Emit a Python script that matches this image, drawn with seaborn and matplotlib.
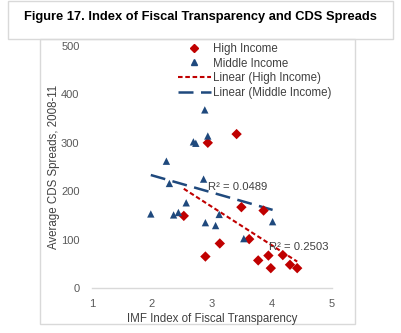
import numpy as np
import pandas as pd
import matplotlib
matplotlib.use("Agg")
import matplotlib.pyplot as plt
from matplotlib.lines import Line2D
from matplotlib.patches import Rectangle
import seaborn as sns

# ---- data ----
high_x = [2.53, 2.89, 2.93, 3.13, 3.41, 3.49, 3.62, 3.77, 3.86, 3.94, 3.98, 4.18, 4.30, 4.42]
high_y = [149, 65, 300, 92, 318, 167, 101, 57, 160, 67, 41, 68, 48, 41]
mid_x = [1.98, 2.24, 2.29, 2.36, 2.44, 2.57, 2.69, 2.73, 2.86, 2.88, 2.89, 2.93, 3.06, 3.12, 3.53, 4.01]
mid_y = [153, 262, 216, 151, 156, 176, 302, 299, 225, 368, 135, 314, 129, 152, 102, 137]
r2_high = "R² = 0.2503"
r2_mid = "R² = 0.0489"
title = "Figure 17. Index of Fiscal Transparency and CDS Spreads"
xlabel = "IMF Index of Fiscal Transparency"
ylabel = "Average CDS Spreads, 2008-11"
xticks = [1, 2, 3, 4, 5]
yticks = [0, 100, 200, 300, 400, 500]

RED = "#C00000"
BLUE = "#1F497D"
GRAY = "#595959"

df = pd.DataFrame({
    "x": high_x + mid_x,
    "y": high_y + mid_y,
    "group": ["High Income"] * len(high_x) + ["Middle Income"] * len(mid_x),
})

sns.set_style("white")
plt.rcParams["font.family"] = ["Liberation Sans", "DejaVu Sans"]

W, H = 402, 333
fig = plt.figure(figsize=(W / 100, H / 100), dpi=100)
ax = fig.add_axes([92 / W, (H - 288) / H, 240 / W, 242 / H])

hi = df[df.group == "High Income"]
mi = df[df.group == "Middle Income"]

sns.regplot(data=hi, x="x", y="y", scatter=False, ci=None, ax=ax,
            line_kws=dict(color=RED, lw=1.5, dashes=(2.2, 1.3)))
sns.regplot(data=mi, x="x", y="y", scatter=False, ci=None, ax=ax,
            line_kws=dict(color=BLUE, lw=1.8, dashes=(6, 3)))
sns.scatterplot(data=df, x="x", y="y", hue="group", style="group",
                palette={"High Income": RED, "Middle Income": BLUE},
                markers={"High Income": "D", "Middle Income": "^"},
                s=28, edgecolor="none", legend=False, ax=ax, zorder=3)

ax.set_xlim(1, 5)
ax.set_ylim(0, 500)
ax.set_xticks(xticks)
ax.set_yticks(yticks)
ax.tick_params(axis="y", length=0, labelsize=8, labelcolor=GRAY, pad=9)
ax.tick_params(axis="x", length=0, labelsize=8, labelcolor=GRAY, pad=8)
for s in ["top", "right", "left"]:
    ax.spines[s].set_visible(False)
ax.spines["bottom"].set_color("#D9D9D9")
ax.spines["bottom"].set_linewidth(1)
ax.set_xlabel(xlabel, fontsize=8.3, color="#404040", labelpad=3)
ax.set_ylabel(ylabel, fontsize=8.3, color="#404040", labelpad=1)
ax.patch.set_alpha(0)

ax.text(2.93, 209, r2_mid, fontsize=8.1, color="#404040", va="center", ha="left", zorder=4)
ax.text(3.95, 85, r2_high, fontsize=8.1, color="#404040", va="center", ha="left", zorder=4)

handles = [
    Line2D([], [], ls="none", marker="D", color=RED, markersize=4.5),
    Line2D([], [], ls="none", marker="^", color=BLUE, markersize=5),
    Line2D([], [], color=RED, lw=1.5, dashes=(2.2, 1.3)),
    Line2D([], [], color=BLUE, lw=1.8, dashes=(6, 3)),
]
labels = ["High Income", "Middle Income", "Linear (High Income)", "Linear (Middle Income)"]
leg = ax.legend(handles, labels, loc="upper left", bbox_to_anchor=((172 - 92) / 240, 1 + 9 / 242),
                frameon=False, fontsize=8.3, handlelength=2.9, handletextpad=0.2,
                labelspacing=0.24, borderpad=0)
for t in leg.get_texts():
    t.set_color("#404040")

# frames
fig.patches.append(Rectangle((8 / W, (H - 39) / H), (393 - 8) / W, 38 / H,
                             transform=fig.transFigure, fill=False, ec="#D9D9D9", lw=1))
fig.patches.append(Rectangle((40 / W, (H - 324) / H), (355 - 40) / W, (324 - 39) / H,
                             transform=fig.transFigure, fill=True, fc="white", ec="#D9D9D9", lw=1,
                             zorder=-1))
fig.text(200 / W, (H - 17) / H, title, ha="center", va="center", fontsize=9.3,
         fontweight="bold", color="black")

fig.savefig("out.png", dpi=100)
